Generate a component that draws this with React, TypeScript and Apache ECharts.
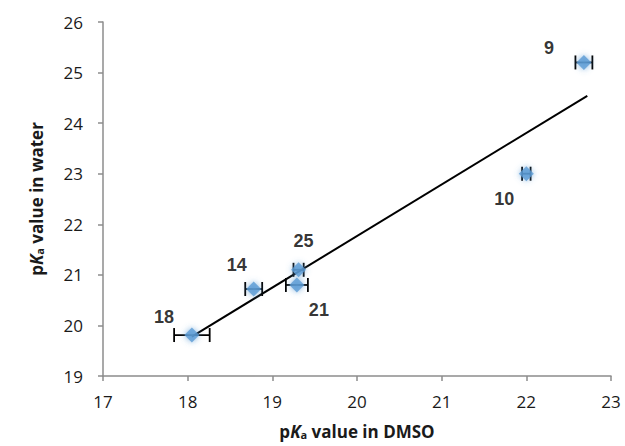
import React, { useEffect, useRef } from "react";
import * as echarts from "echarts";

const compoundLabels = ["9", "10", "14", "25", "21", "18"];
const pKaDMSO = [22.68, 22.0, 18.78, 19.31, 19.29, 18.05];
const pKaWater = [25.2, 23.0, 20.72, 21.1, 20.8, 19.81];
const xError = [0.1, 0.05, 0.1, 0.06, 0.13, 0.21];
const labelOffsets: [number, number][] = [
  [-35, -14],
  [-22, 25],
  [-17, -24],
  [5, -29],
  [22, 25],
  [-28, -18],
];
const trendLine: [number, number][] = [
  [18.05, 19.78],
  [22.72, 24.54],
];
const xTicks = [17, 18, 19, 20, 21, 22, 23];
const yTicks = [19, 20, 21, 22, 23, 24, 25, 26];

export default function App() {
  const ref = useRef<HTMLDivElement>(null);
  useEffect(() => {
    if (!ref.current) return;
    const chart = echarts.init(ref.current, undefined, { renderer: "svg" });
    const fam = "Open Sans, Liberation Sans, sans-serif";
    const tickFont = {
      fontFamily: fam,
      fontSize: 17,
      color: "#1a1a1a",
    };
    const titleRich = {
      b: { fontFamily: fam, fontWeight: "bold" as const, fontSize: 17, color: "#1a1a1a" },
      k: { fontFamily: fam, fontWeight: "bold" as const, fontStyle: "italic" as const, fontSize: 17, color: "#1a1a1a" },
      s: { fontFamily: fam, fontWeight: "bold" as const, fontSize: 11, color: "#1a1a1a", verticalAlign: "bottom" as const, padding: [6, 0, 0, 0] },
    };
    chart.setOption({
      animation: false,
      grid: { left: 103, right: 14, top: 22, bottom: 70, containLabel: false, outerBoundsMode: "none" },
      xAxis: {
        type: "value",
        min: xTicks[0],
        max: xTicks[xTicks.length - 1],
        interval: 1,
        splitLine: { show: false },
        axisLine: { show: true, lineStyle: { color: "#8c8c8c", width: 1.5 } },
        axisTick: { show: true, length: 5, lineStyle: { color: "#8c8c8c", width: 1.5 } },
        axisLabel: { ...tickFont, margin: 17 },
        name: "{b|p}{k|K}{s|a}{b| value in DMSO}",
        nameLocation: "middle",
        nameGap: 47,
        nameTextStyle: { rich: titleRich },
      },
      yAxis: {
        type: "value",
        min: yTicks[0],
        max: yTicks[yTicks.length - 1],
        interval: 1,
        splitLine: { show: false },
        axisLine: { show: true, lineStyle: { color: "#8c8c8c", width: 1.5 } },
        axisTick: { show: true, length: 5, lineStyle: { color: "#8c8c8c", width: 1.5 } },
        axisLabel: { ...tickFont, margin: 20 },
        name: "{b|p}{k|K}{s|a}{b| value in water}",
        nameLocation: "middle",
        nameGap: 58,
        nameRotate: 90,
        nameTextStyle: { rich: titleRich },
      },
      series: [
        {
          type: "line",
          data: trendLine,
          symbol: "none",
          lineStyle: { color: "#000", width: 2 },
          z: 3,
        },
        {
          type: "custom",
          z: 2,
          data: pKaDMSO.map((x, i) => [x, pKaWater[i], xError[i]]),
          renderItem: (params: any, api: any) => {
            const x = api.value(0);
            const y = api.value(1);
            const e = api.value(2);
            const p1 = api.coord([x - e, y]);
            const p2 = api.coord([x + e, y]);
            const cap = 7;
            const style = { stroke: "#000", lineWidth: 1.8 };
            return {
              type: "group",
              children: [
                { type: "line", shape: { x1: p1[0], y1: p1[1], x2: p2[0], y2: p2[1] }, style },
                { type: "line", shape: { x1: p1[0], y1: p1[1] - cap, x2: p1[0], y2: p1[1] + cap }, style },
                { type: "line", shape: { x1: p2[0], y1: p2[1] - cap, x2: p2[0], y2: p2[1] + cap }, style },
              ],
            };
          },
        },
        {
          type: "scatter",
          z: 4,
          symbol: "diamond",
          symbolSize: 15,
          itemStyle: {
            color: "#5b9bd5",
            shadowBlur: 6,
            shadowColor: "rgba(91,155,213,0.9)",
          },
          data: pKaDMSO.map((x, i) => ({
            value: [x, pKaWater[i]],
            label: {
              show: true,
              formatter: compoundLabels[i],
              position: "inside",
              offset: labelOffsets[i],
              fontFamily: "Liberation Sans, Arial, sans-serif",
              fontWeight: "bold",
              fontSize: 18,
              color: "#000",
              textBorderWidth: 0,
              textShadowBlur: 0,
            },
          })),
        },
      ],
    });
    return () => chart.dispose();
  }, []);
  return <div ref={ref} style={{ width: 625, height: 446, position: "absolute", left: 0, top: 0, background: "#fff" }} />;
}
